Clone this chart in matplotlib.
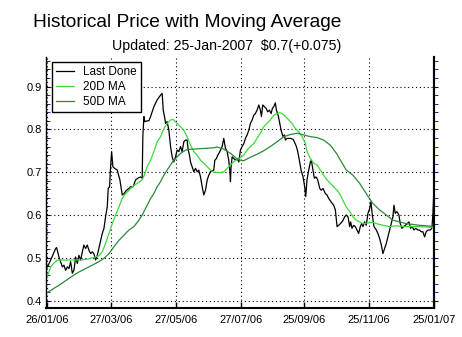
import numpy as np
import pandas as pd
import matplotlib
matplotlib.use('Agg')
import matplotlib.pyplot as plt
import matplotlib.dates as mdates
from matplotlib.ticker import MultipleLocator, FixedLocator

plt.rcParams['font.family'] = ['Liberation Sans', 'DejaVu Sans']

start = pd.Timestamp('2006-01-26')

price_days = [0, 3.0, 7.7, 8.6, 10.8, 14.0, 15.5, 17.1, 18.7, 20.2, 21.8, 23.4, 24.9, 26.5, 28.1, 29.6, 31.2, 32.8,
              34.3, 35.9, 37.5, 39.0, 40.6, 42.2, 43.7, 45.3, 46.9, 48.4, 50.0, 51.6, 53.2, 54.7, 56.3, 57.2, 58.5,
              59.4, 60.4, 61.6, 63.2, 65.7, 68.2, 70.4, 72.0, 74.5, 76.7, 78.2, 80.7, 82.9, 85.1, 87.6, 89.2, 89.8,
              90.8, 91.7, 93.9, 95.5, 97.1, 100.2, 103.3, 106.5, 108.0, 109.0, 110.2, 111.2, 112.7, 114.3, 115.9,
              117.4, 119.0, 120.6, 122.1, 123.7, 125.3, 126.8, 128.4, 130.0, 131.5, 132.5, 133.7, 134.7, 136.2,
              137.8, 139.4, 141.0, 142.5, 144.1, 145.7, 147.2, 148.8, 150.4, 151.9, 153.5, 156.6, 157.6, 159.1,
              160.4, 162.3, 164.5, 166.0, 167.6, 169.2, 170.7, 171.7, 172.3, 172.9, 173.9, 175.4, 177.0, 178.6,
              180.2, 181.7, 183.3, 184.9, 186.4, 188.0, 189.6, 191.1, 192.7, 194.3, 195.8, 197.4, 199.0, 200.5,
              201.5, 202.7, 204.3, 205.9, 207.4, 209.0, 210.6, 211.8, 213.1, 214.6, 215.6, 217.2, 218.7, 220.3,
              221.9, 223.1, 224.1, 225.6, 228.8, 231.3, 232.5, 234.4, 235.7, 237.2, 238.8, 240.7, 242.2, 243.2,
              244.4, 246.0, 247.6, 248.5, 249.8, 251.3, 252.9, 254.5, 256.4, 257.9, 259.5, 261.7, 263.2, 264.8,
              267.0, 269.5, 271.1, 272.7, 274.2, 275.8, 278.0, 279.9, 281.4, 283.0, 284.6, 285.5, 286.8, 288.3,
              289.9, 291.5, 293.0, 294.6, 295.9, 297.1, 298.7, 300.2, 301.8, 303.4, 304.6, 305.9, 307.5, 309.7,
              311.2, 312.8, 314.4, 315.9, 317.5, 319.1, 320.6, 322.2, 323.8, 325.3, 326.3, 327.5, 329.1, 331.0,
              332.2, 333.8, 335.4, 336.9, 338.8, 340.4, 342.0, 343.5, 345.1, 346.7, 348.9, 350.4, 352.0, 353.6,
              355.1, 356.7, 358.3, 360.4, 362.0, 363.0, 364.0]
price_vals = [0.479, 0.495, 0.522, 0.524, 0.502, 0.479, 0.483, 0.471, 0.479, 0.475, 0.491, 0.464, 0.471, 0.502,
              0.487, 0.506, 0.495, 0.514, 0.530, 0.522, 0.530, 0.518, 0.510, 0.514, 0.510, 0.495, 0.506, 0.522,
              0.538, 0.557, 0.569, 0.596, 0.619, 0.662, 0.666, 0.713, 0.748, 0.713, 0.709, 0.705, 0.682, 0.647,
              0.650, 0.658, 0.662, 0.666, 0.666, 0.682, 0.686, 0.689, 0.686, 0.783, 0.830, 0.818, 0.820, 0.820,
              0.830, 0.853, 0.869, 0.880, 0.884, 0.845, 0.830, 0.814, 0.818, 0.798, 0.760, 0.736, 0.724, 0.736,
              0.752, 0.748, 0.760, 0.748, 0.771, 0.775, 0.775, 0.752, 0.740, 0.724, 0.713, 0.701, 0.709, 0.701,
              0.705, 0.689, 0.666, 0.647, 0.658, 0.682, 0.693, 0.701, 0.705, 0.728, 0.732, 0.740, 0.748, 0.760,
              0.779, 0.756, 0.748, 0.728, 0.705, 0.678, 0.713, 0.736, 0.732, 0.728, 0.732, 0.724, 0.752, 0.760,
              0.767, 0.779, 0.787, 0.798, 0.814, 0.822, 0.833, 0.837, 0.845, 0.857, 0.845, 0.830, 0.857, 0.853,
              0.849, 0.841, 0.845, 0.837, 0.849, 0.853, 0.862, 0.845, 0.833, 0.814, 0.795, 0.783, 0.787, 0.775,
              0.779, 0.779, 0.777, 0.771, 0.760, 0.748, 0.728, 0.705, 0.689, 0.666, 0.643, 0.682, 0.705, 0.724,
              0.728, 0.709, 0.686, 0.689, 0.682, 0.662, 0.658, 0.662, 0.650, 0.647, 0.639, 0.631, 0.623, 0.612,
              0.573, 0.576, 0.580, 0.586, 0.596, 0.600, 0.596, 0.573, 0.584, 0.569, 0.576, 0.573, 0.565, 0.557,
              0.573, 0.580, 0.573, 0.584, 0.576, 0.604, 0.615, 0.631, 0.600, 0.573, 0.565, 0.557, 0.545, 0.530,
              0.510, 0.522, 0.534, 0.549, 0.565, 0.580, 0.596, 0.623, 0.604, 0.608, 0.600, 0.580, 0.569, 0.573,
              0.576, 0.580, 0.584, 0.569, 0.573, 0.565, 0.569, 0.565, 0.565, 0.561, 0.561, 0.549, 0.561, 0.565,
              0.565, 0.569, 0.604, 0.666]

ma20_days = [0, 3.0, 6.1, 9.2, 12.4, 18.7, 24.9, 31.2, 37.5, 43.7, 48.4, 51.6, 54.7, 57.9, 61.0, 64.1, 67.3,
             70.4, 73.5, 76.7, 79.8, 84.5, 89.2, 91.0, 93.9, 97.1, 100.2, 103.3, 106.5, 109.6, 112.7, 115.9,
             118.4, 122.1, 125.3, 128.4, 131.5, 134.7, 137.8, 141.0, 144.1, 147.2, 150.4, 153.5, 156.6, 162.9,
             166.0, 169.2, 172.3, 175.4, 178.6, 181.7, 184.9, 188.0, 191.1, 194.3, 197.4, 200.5, 203.6, 206.8,
             209.9, 213.1, 216.2, 218.7, 220.9, 224.1, 227.2, 230.3, 233.5, 236.6, 239.8, 242.9, 244.4, 247.6,
             250.7, 253.8, 257.0, 260.1, 263.2, 266.4, 269.5, 272.7, 275.8, 278.9, 281.4, 284.6, 287.7, 290.8,
             294.0, 297.1, 303.4, 306.5, 309.7, 315.9, 322.2, 328.5, 337.9, 350.4, 364.0]
ma20_vals = [0.457, 0.479, 0.488, 0.495, 0.495, 0.495, 0.495, 0.495, 0.497, 0.501, 0.505, 0.514, 0.534, 0.557,
             0.580, 0.600, 0.619, 0.639, 0.650, 0.658, 0.666, 0.674, 0.682, 0.692, 0.713, 0.728, 0.748, 0.771,
             0.783, 0.802, 0.814, 0.822, 0.823, 0.814, 0.806, 0.798, 0.783, 0.763, 0.748, 0.740, 0.728, 0.721,
             0.713, 0.705, 0.700, 0.699, 0.701, 0.709, 0.717, 0.724, 0.730, 0.734, 0.740, 0.752, 0.760, 0.767,
             0.779, 0.791, 0.806, 0.814, 0.822, 0.833, 0.837, 0.839, 0.837, 0.830, 0.822, 0.814, 0.802, 0.795,
             0.783, 0.767, 0.748, 0.732, 0.721, 0.717, 0.705, 0.693, 0.682, 0.674, 0.666, 0.658, 0.647, 0.631,
             0.619, 0.608, 0.596, 0.588, 0.584, 0.580, 0.582, 0.583, 0.580, 0.576, 0.573, 0.575, 0.573, 0.573,
             0.571]

ma50_days = [0, 1.4, 6.1, 10.8, 15.5, 20.2, 24.9, 29.6, 34.3, 39.0, 43.7, 48.4, 53.2, 57.9, 62.6, 67.3, 72.0,
             76.7, 81.4, 86.1, 89.2, 93.9, 97.1, 100.2, 103.3, 106.5, 109.6, 112.7, 115.9, 119.0, 122.1, 125.3,
             128.4, 131.5, 137.8, 144.1, 150.4, 156.6, 159.8, 162.9, 166.0, 169.2, 172.3, 175.4, 178.6, 181.7,
             184.9, 191.1, 197.4, 203.6, 209.9, 216.2, 222.5, 228.8, 235.1, 241.4, 247.6, 253.8, 260.1, 266.4,
             272.7, 275.2, 281.4, 287.7, 294.0, 300.2, 306.5, 312.8, 319.1, 325.3, 331.6, 337.9, 344.1, 350.4,
             356.7, 364.0]
ma50_vals = [0.419, 0.421, 0.429, 0.436, 0.444, 0.452, 0.460, 0.467, 0.473, 0.479, 0.485, 0.491, 0.499, 0.510,
             0.526, 0.541, 0.553, 0.565, 0.573, 0.588, 0.600, 0.623, 0.639, 0.650, 0.666, 0.678, 0.693, 0.705,
             0.717, 0.728, 0.736, 0.744, 0.749, 0.753, 0.754, 0.755, 0.756, 0.757, 0.759, 0.756, 0.754, 0.749,
             0.744, 0.738, 0.731, 0.728, 0.727, 0.735, 0.742, 0.750, 0.760, 0.771, 0.783, 0.788, 0.791, 0.787,
             0.783, 0.781, 0.775, 0.763, 0.742, 0.731, 0.705, 0.693, 0.674, 0.650, 0.627, 0.612, 0.600, 0.588,
             0.584, 0.580, 0.578, 0.576, 0.575, 0.573]

tick_labels = ['26/01/06', '27/03/06', '27/05/06', '27/07/06', '25/09/06', '25/11/06', '25/01/07']
y_ticks = [0.4, 0.5, 0.6, 0.7, 0.8, 0.9]

title = 'Historical Price with Moving Average'
subtitle = 'Updated: 25-Jan-2007  $0.7(+0.075)'


def to_dates(days):
    return start + pd.to_timedelta(np.array(days), unit='D')


W, H = 462, 337
fig = plt.figure(figsize=(W / 100, H / 100), dpi=100)
ax = fig.add_axes([46 / W, 1 - 308 / H, (434 - 46) / W, (308 - 57) / H])

ax.plot(to_dates(price_days), price_vals, color='black', lw=0.9, label='Last Done')
ax.plot(to_dates(ma20_days), ma20_vals, color='#3ed83e', lw=0.9, label='20D MA')
ax.plot(to_dates(ma50_days), ma50_vals, color='#2a8a3a', lw=0.9, label='50D MA')

tick_dates = pd.to_datetime(tick_labels, format='%d/%m/%y')
ax.set_xticks(tick_dates)
ax.set_xticklabels(tick_labels)
ax.set_xlim(start - pd.Timedelta(days=1.4), pd.Timestamp('2007-01-25'))
ax.set_ylim(0.383, 0.969)
ax.set_yticks(y_ticks)
ax.set_yticklabels([f'{t:.1f}' for t in y_ticks])
ax.yaxis.set_minor_locator(MultipleLocator(0.02))

ax.grid(True, which='major', color='black', linestyle=(0, (1, 2.5)), lw=0.8)
ax.tick_params(axis='x', direction='in', length=4, width=1, labelsize=8, pad=5, colors='black')
ax.tick_params(axis='y', which='major', direction='in', length=3, labelsize=8, pad=3, color='#000060')
ax.tick_params(axis='y', which='minor', direction='in', length=3, color='#000080')

ax.spines['top'].set_visible(False)
ax.spines['left'].set_linewidth(1.0)
ax.spines['bottom'].set_linewidth(1.5)
ax.spines['right'].set_linewidth(1.5)

sec = ax.secondary_yaxis('right')
sec.set_yticks(np.arange(0.4, 0.97, 0.1))
sec.yaxis.set_minor_locator(MultipleLocator(0.02))
sec.tick_params(which='both', direction='out', length=3, color='#000080', labelright=False)
sec.spines['right'].set_linewidth(1.5)

leg = ax.legend(loc='upper left', bbox_to_anchor=(0.0147, 0.979), borderaxespad=0, fontsize=8.5,
                frameon=True, fancybox=False, edgecolor='black', framealpha=1, handlelength=1.5,
                handletextpad=0.8, labelspacing=0.25, borderpad=0.35)
leg.get_frame().set_linewidth(1.0)

fig.text(33 / W, 1 - 27 / H, title, fontsize=13.8, va='baseline', ha='left')
fig.text(112 / W, 1 - 50 / H, subtitle, fontsize=10.2, va='baseline', ha='left')

fig.savefig('out.png', dpi=100)
